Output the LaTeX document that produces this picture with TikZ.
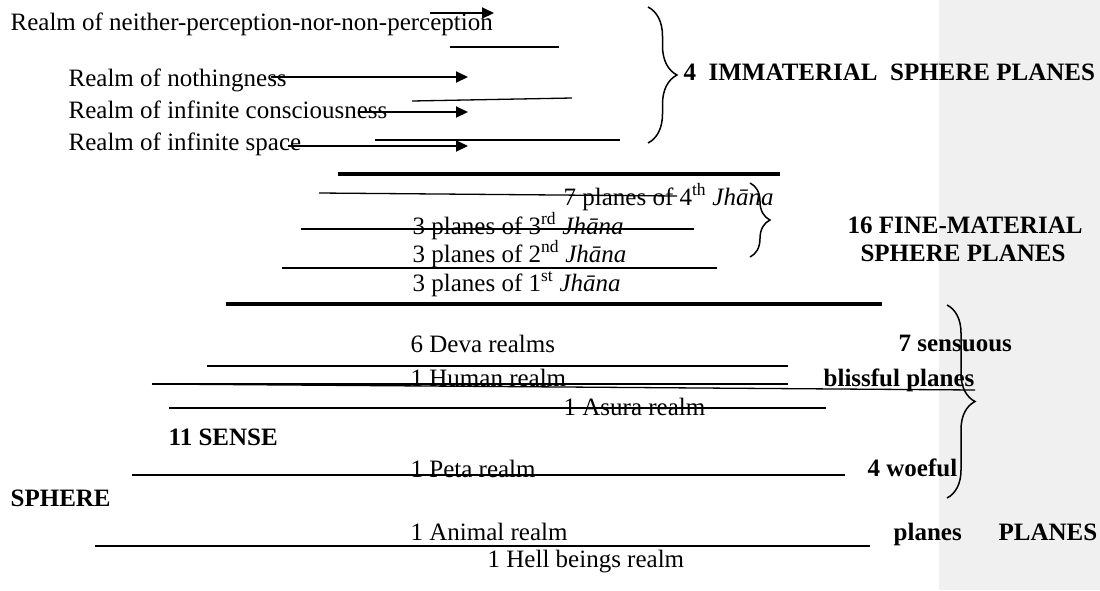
\documentclass[tikz,border=0pt]{standalone}
\usepackage{fontspec}
\setmainfont{Liberation Serif}
\usetikzlibrary{arrows.meta, decorations.pathreplacing}
\definecolor{cstrip}{HTML}{F0F0F0}
\tikzset{
  every picture/.style={line width=1.3pt},
  realm/.style={anchor=base west, inner sep=0pt, font=\fontsize{25}{30}\selectfont},
  heading/.style={realm, font=\fontsize{25}{30}\selectfont\bfseries},
  pointer/.style={-{Triangle[length=12pt, width=11pt]}, line width=2pt},
  divider/.style={line width=4pt},
  bracket/.style={decorate, decoration={brace, amplitude=#1}, line width=1.5pt},
}
\newcommand{\jh}{\textit{Jh\=ana}}

\begin{document}
\begin{tikzpicture}[x=1pt, y=-1pt]
  \useasboundingbox (0,0) rectangle (1100,590);
  % grey margin strip on the right
  \fill[cstrip] (939,0) rectangle (1100,590);

  % immaterial sphere
  \node[realm] (neither) at (10,30) {Realm of neither-perception-nor-non-perception};
  \node[realm] (nothing) at (68,86) {Realm of nothingness};
  \node[realm] (conscious) at (68,118) {Realm of infinite consciousness};
  \node[realm] (space) at (68,150) {Realm of infinite space};
  \draw[pointer] (430,13) -- (494,13);
  \draw[pointer] (271,77) -- (468,77);
  \draw[pointer] (360,112) -- (468,112);
  \draw[pointer] (288,146) -- (468,146);
  \draw[bracket=29pt] (648,7) -- (648,143);
  \node[heading] (immaterial) at (683,80) {4\ \ IMMATERIAL\ \ SPHERE PLANES};

  % fine-material sphere
  \draw[divider] (338,174) -- (780,174);
  \node[realm] (fourth) at (563,205) {7 planes of 4\textsuperscript{th} \jh};
  \node[realm] (third) at (412,234) {3 planes of 3\textsuperscript{rd} \jh};
  \node[realm] (second) at (412,262) {3 planes of 2\textsuperscript{nd} \jh};
  \node[realm] (first) at (412,291) {3 planes of 1\textsuperscript{st} \jh};
  \draw[bracket=20pt] (750,183) -- (750,257);
  \node[heading, anchor=base] (fine) at (965,233) {16 FINE-MATERIAL};
  \node[heading, anchor=base] (fineb) at (963,261) {SPHERE PLANES};
  \draw[divider] (226,304) -- (882,304);

  % sense sphere
  \node[realm] (deva) at (410,352) {6 Deva realms};
  \node[realm] (human) at (410,386) {1 Human realm};
  \node[realm] (asura) at (563,415) {1 Asura realm};
  \node[realm] (peta) at (410,477) {1 Peta realm};
  \node[realm] (animal) at (410,540) {1 Animal realm};
  \node[realm] (hell) at (487,567) {1 Hell beings realm};
  \node[heading] (sensuous) at (898,351) {7 sensuous};
  \node[heading] (blissful) at (823,386) {blissful planes};
  \node[heading] (woeful) at (867,476) {4 woeful};
  \node[heading] (woefulb) at (893,540) {planes};
  \node[heading] (sense) at (168,445) {11 SENSE};
  \node[heading] (senseb) at (10,506) {SPHERE};
  \node[heading] (sensec) at (998,540) {PLANES};
  \draw[bracket=28pt] (947,305) -- (947,498);

  % rule lines between the planes
  \foreach \xa/\ya/\xb/\yb in {450/47/559/47, 412/101/572/98, 375/140/620/140,
      319/193/677/196, 301/229/694/229, 282/268/717/268,
      207/366/788/366, 152/384/788/384, 152/384/975/390, 169/408/826/408,
      132/475/845/475, 95/546/870/546}
    \draw (\xa,\ya) -- (\xb,\yb);
\end{tikzpicture}
\end{document}
